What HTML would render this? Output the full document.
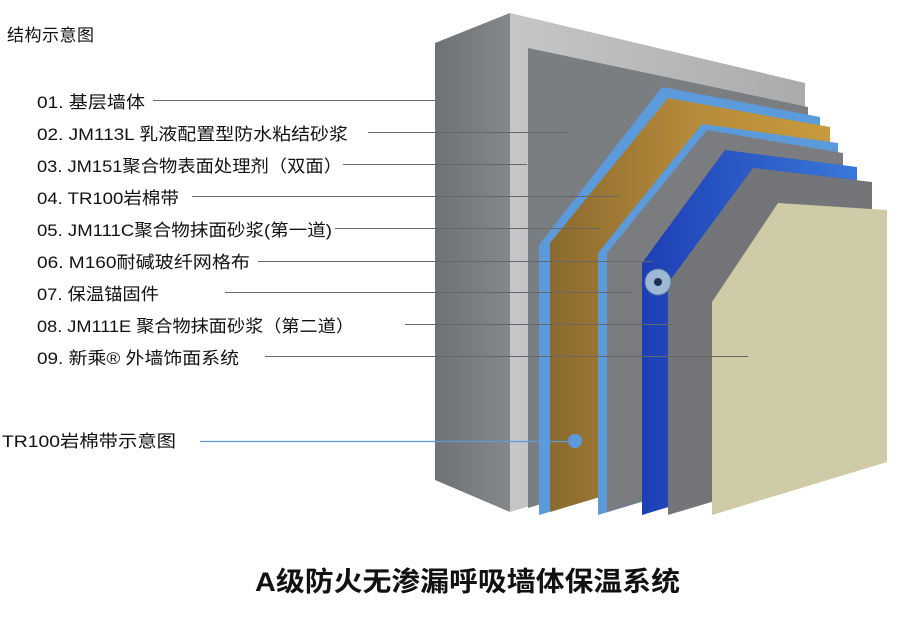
<!DOCTYPE html>
<html><head><meta charset="utf-8"><style>
html,body{margin:0;padding:0;background:#fff;width:902px;height:635px;overflow:hidden}
svg{display:block}
text{font-family:"Liberation Sans","Noto Sans CJK SC",sans-serif;fill:#111}
</style></head><body>
<svg width="902" height="635" viewBox="0 0 902 635">
<defs>
<linearGradient id="side" x1="0" x2="1"><stop offset="0" stop-color="#6f7275"/><stop offset="1" stop-color="#85888b"/></linearGradient>
<linearGradient id="front" x1="0" x2="1"><stop offset="0" stop-color="#c4c6c8"/><stop offset="1" stop-color="#a9abad"/></linearGradient>
<linearGradient id="wool" x1="0" x2="1"><stop offset="0" stop-color="#8a6a2e"/><stop offset="0.5" stop-color="#b58a3a"/><stop offset="1" stop-color="#c79a3c"/></linearGradient>
<linearGradient id="mesh" x1="0" x2="1"><stop offset="0" stop-color="#1d3fb5"/><stop offset="1" stop-color="#3a78d8"/></linearGradient>
</defs>
<!-- wall block -->
<polygon points="435,43 510,13 510,512 435,480" fill="url(#side)"/>
<polygon points="510,13 805,83 805,423 510,512" fill="url(#front)"/>
<polygon points="528,48 808,107 808,424 528,508" fill="#7b7e81"/>
<!-- layers -->
<polygon points="539,515 539,245 662,87 820,117 820,431" fill="#5b9bdc"/>
<polygon points="550,512 550,243 668,98 830,127 830,428" fill="url(#wool)"/>
<polygon points="598,515 598,253 702,124 838,143 838,443" fill="#5b9bdc"/>
<polygon points="607,512 607,253 707,130 843,153 843,441" fill="#7a7c7f"/>
<polygon points="642,515 642,263 725,150 857,167 857,450" fill="url(#mesh)"/>
<polygon points="668,515 668,283 753,168 872,182 872,454" fill="#737578"/>
<polygon points="712,515 712,302 778,203 887,210 887,462" fill="#cfcba6"/>
<!-- anchor -->
<circle cx="658" cy="282" r="13" fill="#9fb8d6" stroke="#5a7aa0" stroke-width="1"/>
<circle cx="658" cy="282" r="4" fill="#1d2f55"/>
<!-- leader lines -->
<g stroke="#666" stroke-width="1">
<line x1="153" y1="100.5" x2="435" y2="100.5"/>
<line x1="368" y1="132.5" x2="567" y2="132.5"/>
<line x1="343" y1="164.5" x2="527" y2="164.5"/>
<line x1="192" y1="196.5" x2="620" y2="196.5"/>
<line x1="335" y1="228.5" x2="600" y2="228.5"/>
<line x1="258" y1="261.5" x2="653" y2="261.5"/>
<line x1="225" y1="292.5" x2="633" y2="292.5"/>
<line x1="405" y1="324.5" x2="672" y2="324.5"/>
<line x1="265" y1="356.5" x2="748" y2="356.5"/>
</g>
<line x1="200" y1="441.5" x2="575" y2="441.5" stroke="#5b9bdc" stroke-width="1.2"/>
<circle cx="575" cy="441" r="7" fill="#5b9bdc"/>
<!-- labels -->
<text x="7" y="41" font-size="17" letter-spacing="0.5">结构示意图</text>
<g font-size="17">
<text x="37" y="108" textLength="108" lengthAdjust="spacingAndGlyphs">01. 基层墙体</text>
<text x="37" y="140" textLength="311" lengthAdjust="spacingAndGlyphs">02. JM113L 乳液配置型防水粘结砂浆</text>
<text x="37" y="172" textLength="305" lengthAdjust="spacingAndGlyphs">03. JM151聚合物表面处理剂（双面）</text>
<text x="37" y="204" textLength="142" lengthAdjust="spacingAndGlyphs">04. TR100岩棉带</text>
<text x="37" y="236" textLength="295" lengthAdjust="spacingAndGlyphs">05. JM111C聚合物抹面砂浆(第一道)</text>
<text x="37" y="268" textLength="213" lengthAdjust="spacingAndGlyphs">06. M160耐碱玻纤网格布</text>
<text x="37" y="300" textLength="122" lengthAdjust="spacingAndGlyphs">07. 保温锚固件</text>
<text x="37" y="332" textLength="317" lengthAdjust="spacingAndGlyphs">08. JM111E 聚合物抹面砂浆（第二道）</text>
<text x="37" y="364" textLength="202" lengthAdjust="spacingAndGlyphs">09. 新乘® 外墙饰面系统</text>
<text x="2" y="447" textLength="174" lengthAdjust="spacingAndGlyphs">TR100岩棉带示意图</text>
</g>
<text x="255" y="591" font-size="27" font-weight="bold" textLength="425" lengthAdjust="spacingAndGlyphs">A级防火无渗漏呼吸墙体保温系统</text>
</svg>
</body></html>
